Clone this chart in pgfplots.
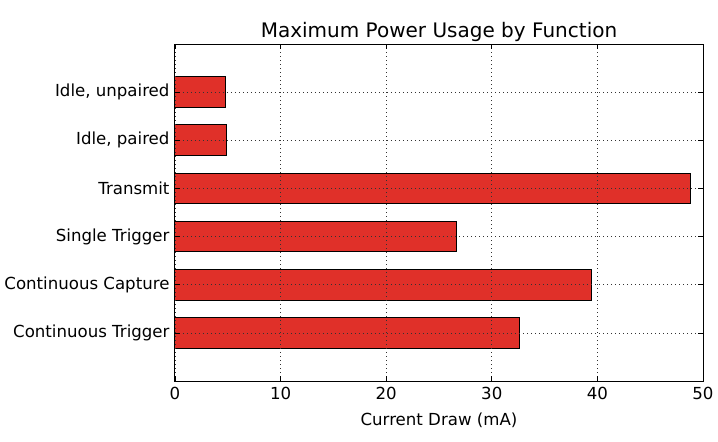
\documentclass[border=0pt]{standalone}
\usepackage{pgfplots}
\pgfplotsset{compat=1.18}
\usepackage{fontspec}
\setmainfont{DejaVu Sans}
\definecolor{barred}{RGB}{224,48,41}
\begin{document}
\begin{tikzpicture}
\begin{axis}[
  scale only axis,
  width=528pt, height=337pt,
  xbar, bar width=0.64,
  xmin=0, xmax=50, ymin=-1, ymax=6,
  xtick={0,10,20,30,40,50},
  ytick={0,1,2,3,4,5},
  yticklabels={Continuous Trigger,Continuous Capture,Single Trigger,Transmit,{Idle, paired},{Idle, unpaired}},
  tick align=inside,
  tick pos=both,
  major tick length=5pt,
  tick style={black, line width=0.7pt},
  xmajorgrids, ymajorgrids,
  grid style={black!80, line width=0.7pt, dash pattern=on 1pt off 3pt},
  axis on top,
  axis line style={black, line width=1pt},
  /pgf/number format/assume math mode=true,
  ticklabel style={font=\fontsize{16.6}{19}\selectfont},
  xticklabel style={yshift=-3pt},
  yticklabel style={xshift=-2pt},
  xlabel={Current Draw (mA)},
  xlabel style={font=\fontsize{16.6}{19}\selectfont, yshift=-6pt},
  title={Maximum Power Usage by Function},
  title style={font=\fontsize{20}{23}\selectfont, yshift=-7pt},
]
\addplot[fill=barred, draw=black, line width=1pt] coordinates {
  (32.6,0) (39.4,1) (26.7,2) (48.8,3) (4.85,4) (4.75,5)
};
\end{axis}
\path (current axis.south west) ++(-175pt,-61pt) rectangle ++(718pt,442pt);
\end{tikzpicture}
\end{document}
